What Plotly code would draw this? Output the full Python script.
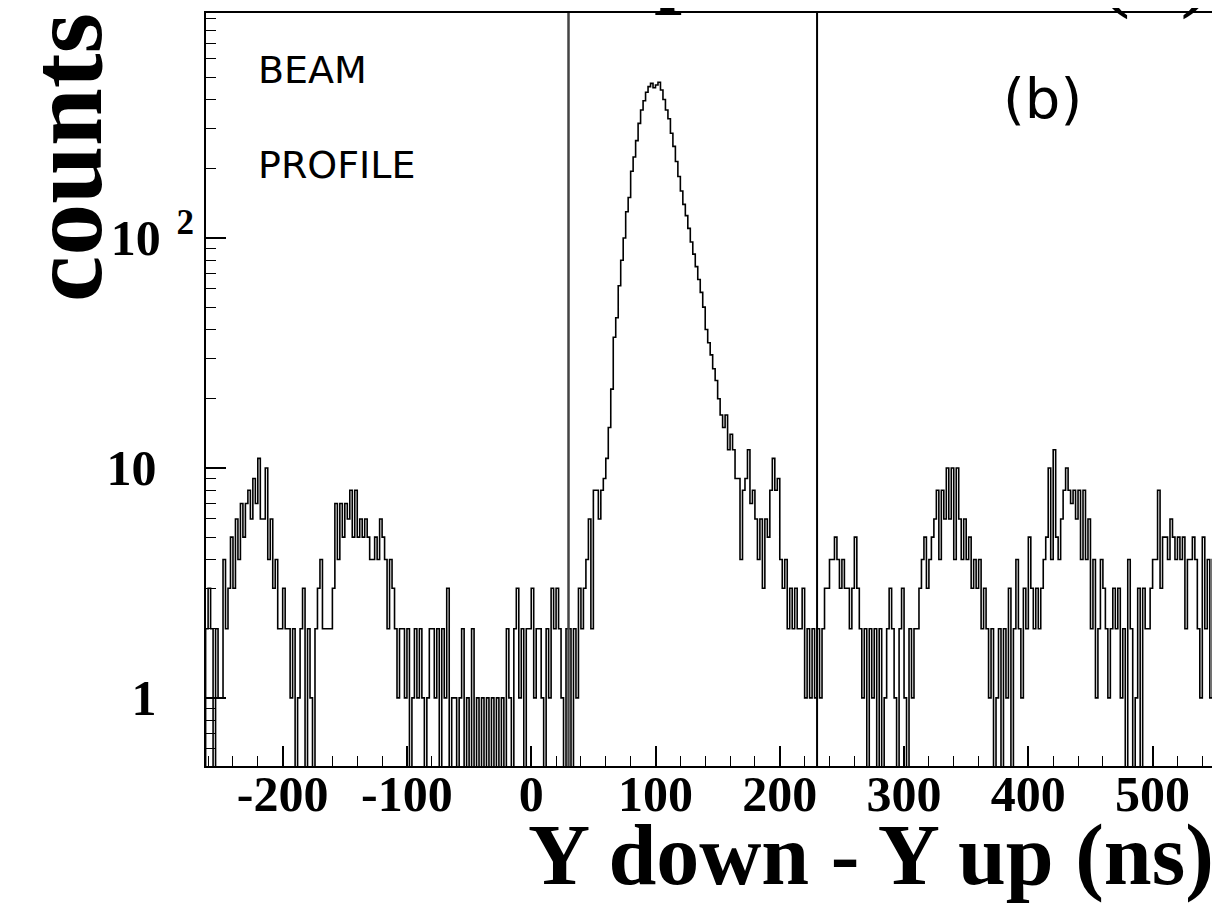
import numpy as np
import plotly.graph_objects as go

# ---------------- data ----------------
bin_start = -262          # ns, left edge of first bin
bin_width = 2             # ns

# counts per 2-ns bin, -262 .. 30 ns
counts_left = [
    2, 3, 2, 0, 2,   1, 1, 4, 2, 3,   5, 3, 6, 4, 7,   5, 7, 8, 6, 9,
    7, 11, 6, 6, 10, 4, 6, 3, 4, 2,   2, 3, 2, 2, 1,   2, 0, 1, 2, 3,
    0, 2, 1, 0, 2,   3, 4, 2, 2, 2,   2, 3, 7, 4, 7,   5, 7, 6, 8, 5,
    8, 5, 6, 5, 6,   5, 4, 4, 5, 4,   6, 5, 4, 2, 4,   3, 2, 1, 2, 2,
    1, 2, 0, 1, 2,   1, 2, 1, 0, 1,   2, 2, 1, 2, 0,   2, 1, 3, 0, 1,
    1, 0, 1, 2, 0,   1, 0, 2, 0, 1,   0, 1, 0, 1, 0,   1, 0, 1, 0, 1,
    0, 2, 1, 0, 2,   3, 1, 2, 0, 2,   2, 3, 1, 2, 2,   1, 0, 2, 1, 3,
    2, 3, 2, 1, 0,   2,
]
# counts per 2-ns bin, 30 .. 230 ns (beam peak)
counts_peak = [
    2, 0, 2, 1,  3, 2, 3, 4,  6, 2, 8,  8, 6, 8, 9,  11, 15,
    22, 37, 45,  62, 80, 100,  130, 150, 195,  225, 265, 315,
    360, 395, 430,  455, 470, 450,  462, 475, 440,  400, 360, 330,
    285, 250, 215,  185, 160, 140,  125, 110, 96,  85, 75, 66,
    58, 50, 40,  35, 31, 27,  24, 20, 17,  15, 17, 12,  14, 12, 9,
    9, 4, 8,  9, 12, 7,  8, 6, 4,  6, 3, 6,  5, 8, 11,  8, 9, 4,
    3, 4, 2,  3, 2, 3,  2, 2, 3,  1, 2, 1,  2, 1,
]
# counts per 2-ns bin, 230 .. 550 ns
counts_right = [
    2, 1, 2, 3, 3,   4, 4, 5, 4, 3,   4, 3, 3, 2, 3,   5, 3, 2, 1, 2,
    0, 2, 1, 2, 0,   2, 0, 1, 2, 3,   2, 1, 0, 2, 3,   1, 0, 2, 1, 2,
    2, 3, 4, 5, 3,   4, 5, 6, 8, 4,   8, 6, 10, 6, 10, 4, 10, 6, 4, 6,
    4, 5, 3, 4, 3,   4, 2, 3, 2, 1,   2, 0, 1, 2, 0,   2, 1, 3, 0, 2,
    4, 2, 1, 3, 2,   5, 3, 2, 3, 2,   3, 4, 5, 10, 4,  12, 5, 4, 6, 8,
    10, 8, 7, 8, 6,  8, 4, 8, 4, 6,   2, 4, 1, 2, 4,   3, 2, 1, 2, 3,
    2, 3, 1, 2, 0,   4, 2, 0, 1, 3,   0, 3, 2, 2, 3,   4, 4, 8, 3, 5,
    5, 4, 6, 5, 4,   5, 4, 5, 2, 4,   4, 5, 4, 2, 1,   5, 2, 4, 1, 4,
]

x_tick_values = [-200, -100, 0, 100, 200, 300, 400, 500]
x_tick_labels = ["-200", "-100", "0", "100", "200", "300", "400", "500"]
y_tick_values = [1, 10, 100]
y_tick_labels = ["1\u2007\u2008", "10\u2007\u2008", "10<sup>\u2009 2</sup>"]
y_minor_values = [0.6, 0.7, 0.8, 0.9, 2, 3, 4, 5, 6, 7, 8, 9,
                  20, 30, 40, 50, 60, 70, 80, 90, 200, 300, 400, 500, 600, 700, 800, 900]
window_edges = [30, 230]

# ---------------- build step histogram ----------------
counts = np.array(counts_left + counts_peak + counts_right, dtype=float)
edges = bin_start + bin_width * np.arange(len(counts) + 1)
floor = 0.2   # empty bins drawn down to (below) the axis, like PAW
yvals = np.where(counts > 0, counts, floor)
xs = np.concatenate([[edges[0]], edges[:-1], [edges[-1]]])
ys = np.concatenate([[floor], yvals, [yvals[-1]]])

serif = "Liberation Serif"

fig = go.Figure()
fig.add_trace(go.Scatter(x=xs, y=ys, mode="lines",
                         line=dict(shape="hv", color="black", width=1.6),
                         hoverinfo="skip", showlegend=False))

fig.add_vline(x=window_edges[0], line=dict(color="#444444", width=2.5))
fig.add_vline(x=window_edges[1], line=dict(color="black", width=2))

axis_common = dict(showline=True, linecolor="black", linewidth=2, mirror=True,
                   ticks="inside", tickcolor="black", tickwidth=1.5, ticklen=20,
                   showgrid=False, zeroline=False,
                   tickfont=dict(family=serif, size=50, color="black", weight="bold"))

fig.update_xaxes(range=[-261.7, 548.6], tickmode="array",
                 tickvals=x_tick_values, ticktext=x_tick_labels,
                 ticklabelstandoff=-17,
                 minor=dict(ticks="inside", ticklen=10, tickwidth=1.2, tickcolor="black",
                            tickmode="linear", tick0=0, dtick=20),
                 **axis_common)
fig.update_yaxes(type="log", range=[-0.296, 2.978], tickmode="array",
                 tickvals=y_tick_values, ticktext=y_tick_labels,
                 ticklabelstandoff=0,
                 minor=dict(ticks="inside", ticklen=10, tickwidth=1.2, tickcolor="black",
                            tickmode="array", tickvals=y_minor_values),
                 **axis_common)

# page offset of the plotly div inside the html body
OFF = 8
W, H = 1220 - OFF, 912 - OFF
L, T = 206 - OFF, 13 - OFF
R = W - (1213 - OFF)
B = H - (766 - OFF)
pw, ph = W - L - R, H - T - B


def px(x):
    return (x - OFF - L) / pw


def py(y):
    return (H - B - (y - OFF)) / ph


annotations = [
    dict(text="counts", x=px(65), y=py(158), textangle=-90,
         xanchor="center", yanchor="middle",
         font=dict(family=serif, size=104, color="black", weight="bold")),
    dict(text="Y down - Y up (ns)", x=px(1216), y=py(855),
         xanchor="right", yanchor="middle",
         font=dict(family=serif, size=86, color="black", weight="bold")),
    dict(text="BEAM", x=px(256), y=py(70), xanchor="left", yanchor="middle",
         font=dict(family="DejaVu Sans", size=38, color="black")),
    dict(text="PROFILE", x=px(256), y=py(165), xanchor="left", yanchor="middle",
         font=dict(family="DejaVu Sans", size=38, color="black")),
    dict(text="(b)", x=px(1042), y=py(98), xanchor="center", yanchor="middle",
         font=dict(family="DejaVu Sans", size=56, color="black")),
    # bottoms of the cut-off panel title above the frame
    dict(text="p", x=px(652), y=py(18), xanchor="left", yanchor="bottom",
         font=dict(family=serif, size=100, color="black", weight="bold")),
    dict(text="(\u2007)", x=px(1155), y=py(22), xanchor="center", yanchor="bottom",
         font=dict(family=serif, size=100, color="black")),
]
for a in annotations:
    a.update(xref="paper", yref="paper", showarrow=False)

fig.update_layout(width=W, height=H, margin=dict(l=L, r=R, t=T, b=B, autoexpand=False),
                  paper_bgcolor="white", plot_bgcolor="white",
                  annotations=annotations)

fig.write_html("out.html")
